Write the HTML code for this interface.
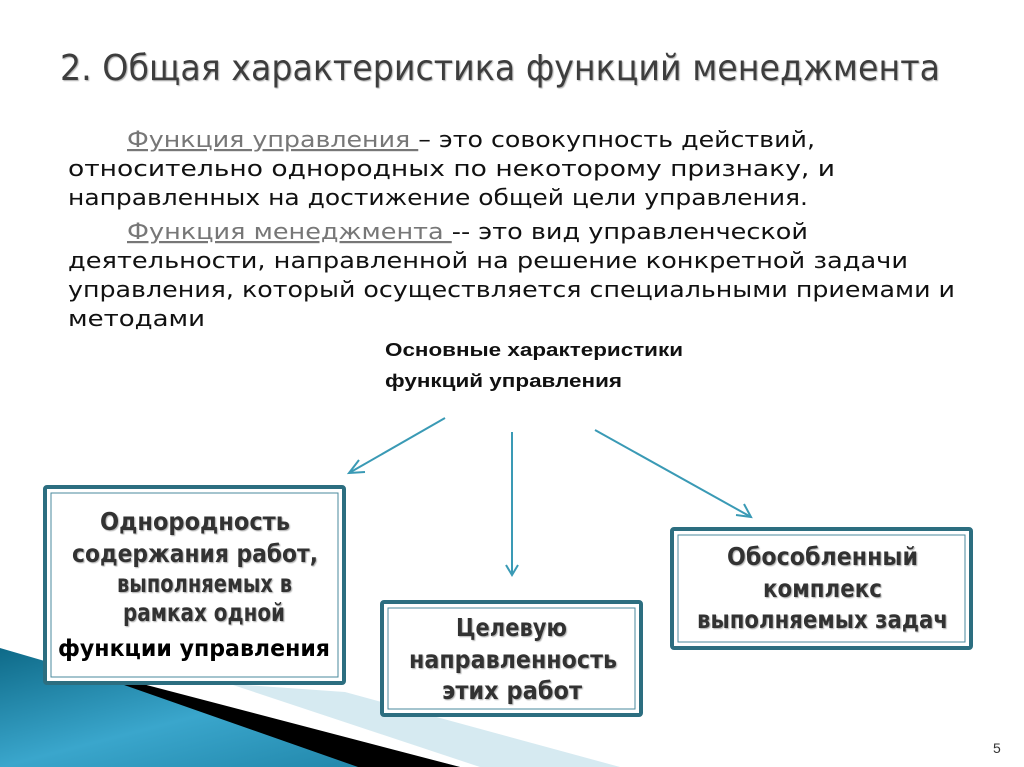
<!DOCTYPE html>
<html><head><meta charset="utf-8"><style>
html,body{margin:0;padding:0;background:#fff;}
svg{display:block;}
.t{font-family:"DejaVu Sans","Liberation Sans",sans-serif;}
</style></head><body>
<svg width="1024" height="767" viewBox="0 0 1024 767" xmlns="http://www.w3.org/2000/svg">
<defs>
<linearGradient id="bl" x1="0" y1="0" x2="1" y2="1">
<stop offset="0" stop-color="#0e6a88"/><stop offset="0.5" stop-color="#3aa6cc"/><stop offset="1" stop-color="#1b7fa2"/>
</linearGradient>
<filter id="sh"><feDropShadow dx="1" dy="1" stdDeviation="0.6" flood-color="#999" flood-opacity="0.8"/></filter>
</defs>
<polygon points="230,684 345,692 620,767 480,767" fill="#d6eaf1"/>
<polygon points="0,648 120,683 460,767 0,767" fill="url(#bl)"/>
<polygon points="110,680 135,682 460,767 358,767" fill="#000"/>

<text x="60" y="80" class="t" font-size="36" fill="#3c3c3c" textLength="880" lengthAdjust="spacingAndGlyphs" filter="url(#sh)">2. Общая характеристика функций менеджмента</text>

<g class="t" font-size="22" fill="#111">
<text x="127" y="147" textLength="688" lengthAdjust="spacingAndGlyphs"><tspan fill="#777" text-decoration="underline">Функция управления </tspan>– это совокупность действий,</text>
<text x="68" y="176" textLength="767" lengthAdjust="spacingAndGlyphs">относительно однородных по некоторому признаку, и</text>
<text x="68" y="205" textLength="740" lengthAdjust="spacingAndGlyphs">направленных на достижение общей цели управления.</text>
<text x="127" y="239" textLength="681" lengthAdjust="spacingAndGlyphs"><tspan fill="#777" text-decoration="underline">Функция менеджмента </tspan>-- это вид управленческой</text>
<text x="68" y="268" textLength="840" lengthAdjust="spacingAndGlyphs">деятельности, направленной на решение конкретной задачи</text>
<text x="68" y="297" textLength="887" lengthAdjust="spacingAndGlyphs">управления, который осуществляется специальными приемами и</text>
<text x="68" y="326" textLength="137" lengthAdjust="spacingAndGlyphs">методами</text>
</g>

<g font-family="Liberation Sans,sans-serif" font-weight="bold" font-size="18" fill="#111">
<text x="385" y="356" textLength="298" lengthAdjust="spacingAndGlyphs">Основные характеристики</text>
<text x="385" y="387" textLength="237" lengthAdjust="spacingAndGlyphs">функций управления</text>
</g>

<g stroke="#3a9ab5" stroke-width="2" fill="none">
<line x1="445" y1="418" x2="349" y2="473"/>
<polyline points="359,460 349,473 365,472"/>
<line x1="512" y1="432" x2="512" y2="575"/>
<polyline points="506,565 512,575 518,565"/>
<line x1="595" y1="430" x2="751" y2="517"/>
<polyline points="736,515 751,517 744,504"/>
</g>

<g fill="#fff">
<rect x="45" y="487" width="299" height="196" stroke="#2c6e80" stroke-width="4" rx="2"/>
<rect x="51" y="493" width="287" height="184" stroke="#4a8a9c" stroke-width="1"/>
<rect x="382" y="602" width="259" height="113" stroke="#2c6e80" stroke-width="4" rx="2"/>
<rect x="388" y="608" width="247" height="101" stroke="#4a8a9c" stroke-width="1"/>
<rect x="672" y="529" width="299" height="119" stroke="#2c6e80" stroke-width="4" rx="2"/>
<rect x="678" y="535" width="287" height="107" stroke="#4a8a9c" stroke-width="1"/>
</g>

<g class="t" font-size="25" font-weight="bold" fill="#333" filter="url(#sh)">
<text x="100" y="530" textLength="190" lengthAdjust="spacingAndGlyphs">Однородность</text>
<text x="72" y="562" textLength="246" lengthAdjust="spacingAndGlyphs">содержания работ,</text>
<text x="117" y="592" textLength="175" lengthAdjust="spacingAndGlyphs">выполняемых в</text>
<text x="123" y="621" textLength="162" lengthAdjust="spacingAndGlyphs">рамках одной</text>
<text x="456" y="636" textLength="111" lengthAdjust="spacingAndGlyphs">Целевую</text>
<text x="409" y="668" textLength="208" lengthAdjust="spacingAndGlyphs">направленность</text>
<text x="442" y="699" textLength="140" lengthAdjust="spacingAndGlyphs">этих работ</text>
<text x="727" y="565" textLength="191" lengthAdjust="spacingAndGlyphs">Обособленный</text>
<text x="763" y="597" textLength="119" lengthAdjust="spacingAndGlyphs">комплекс</text>
<text x="697" y="628" textLength="251" lengthAdjust="spacingAndGlyphs">выполняемых задач</text>
</g>
<text x="58" y="656" class="t" font-size="23" font-weight="bold" fill="#000" textLength="272" lengthAdjust="spacingAndGlyphs">функции управления</text>

<text x="993" y="753" font-family="Liberation Sans,sans-serif" font-size="14" fill="#333">5</text>
</svg>
</body></html>
